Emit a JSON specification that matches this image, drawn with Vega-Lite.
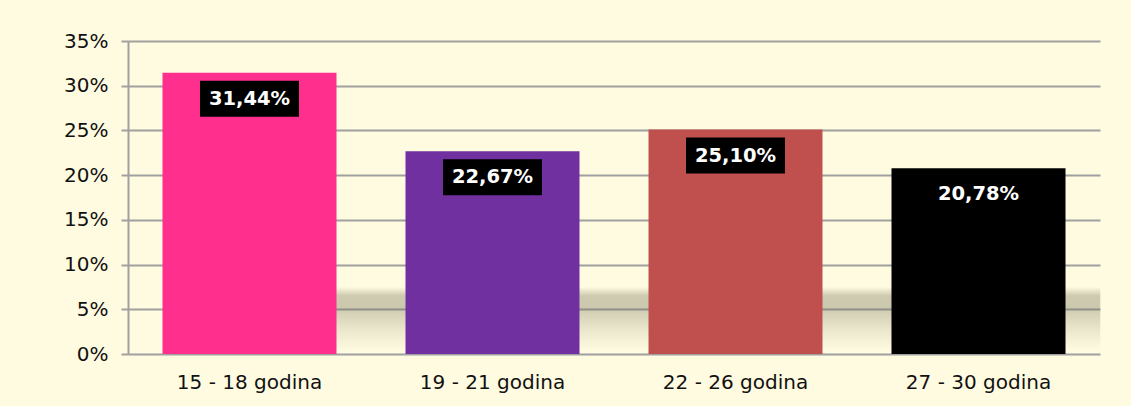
{
  "$schema": "https://vega.github.io/schema/vega-lite/v6.json",
  "width": 972,
  "height": 313,
  "autosize": {"type": "none"},
  "padding": {"left": 128, "top": 41, "right": 31, "bottom": 52},
  "background": "#FFFBE0",
  "config": {
    "locale": {"number": {"decimal": ",", "thousands": ".", "grouping": [3], "currency": ["", " €"], "percent": "%"}},
    "font": "DejaVu Sans",
    "view": {"stroke": null}
  },
  "data": {
    "values": [
      {"group": "15 - 18 godina", "share": 0.3144},
      {"group": "19 - 21 godina", "share": 0.2267},
      {"group": "22 - 26 godina", "share": 0.2510},
      {"group": "27 - 30 godina", "share": 0.2078}
    ]
  },
  "encoding": {
    "x": {
      "field": "group",
      "type": "nominal",
      "sort": null,
      "scale": {
        "domain": ["15 - 18 godina", "19 - 21 godina", "22 - 26 godina", "27 - 30 godina"],
        "paddingInner": 0.284,
        "paddingOuter": 0.142
      },
      "axis": {
        "title": null,
        "domain": false,
        "ticks": false,
        "labelAngle": 0,
        "labelFontSize": 20,
        "labelColor": "#111111",
        "labelPadding": 18,
        "labelBaseline": "top"
      }
    },
    "y": {
      "field": "share",
      "type": "quantitative",
      "scale": {"domain": [0, 0.35], "nice": false},
      "axis": {
        "title": null,
        "format": ".0%",
        "values": [0, 0.05, 0.1, 0.15, 0.2, 0.25, 0.3, 0.35],
        "domain": true,
        "domainColor": "#A0A0A0",
        "domainWidth": 2,
        "ticks": true,
        "tickSize": 7,
        "tickColor": "#A0A0A0",
        "tickWidth": 2,
        "grid": true,
        "gridColor": "#A0A0A0",
        "gridWidth": 2,
        "labelFontSize": 20,
        "labelColor": "#111111",
        "labelPadding": 13
      }
    }
  },
  "layer": [
    {
      "data": {"values": [{"from": "15 - 18 godina", "to": "27 - 30 godina", "top": 0.075, "bottom": 0.05}]},
      "mark": {
        "type": "rect",
        "color": {
          "gradient": "linear", "x1": 0, "y1": 0, "x2": 0, "y2": 1,
          "stops": [
            {"offset": 0, "color": "rgba(110,108,85,0)"},
            {"offset": 0.4, "color": "rgba(110,108,85,0.34)"},
            {"offset": 1, "color": "rgba(110,108,85,0.36)"}
          ]
        }
      },
      "encoding": {
        "x": {"field": "from", "type": "nominal", "bandPosition": 0.5},
        "x2": {"field": "to", "bandPosition": 1.2},
        "y": {"field": "top", "type": "quantitative"},
        "y2": {"field": "bottom"}
      }
    },
    {
      "data": {"values": [{"from": "15 - 18 godina", "to": "27 - 30 godina", "top": 0.05, "bottom": 0.004}]},
      "mark": {
        "type": "rect",
        "color": {
          "gradient": "linear", "x1": 0, "y1": 0, "x2": 0, "y2": 1,
          "stops": [
            {"offset": 0, "color": "rgba(110,108,85,0.32)"},
            {"offset": 0.5, "color": "rgba(110,108,85,0.14)"},
            {"offset": 1, "color": "rgba(110,108,85,0)"}
          ]
        }
      },
      "encoding": {
        "x": {"field": "from", "type": "nominal", "bandPosition": 0.5},
        "x2": {"field": "to", "bandPosition": 1.2},
        "y": {"field": "top", "type": "quantitative"},
        "y2": {"field": "bottom"}
      }
    },
    {
      "mark": {"type": "bar"},
      "encoding": {
        "color": {
          "field": "group",
          "type": "nominal",
          "legend": null,
          "scale": {
            "domain": ["15 - 18 godina", "19 - 21 godina", "22 - 26 godina", "27 - 30 godina"],
            "range": ["#FF2F8E", "#7030A0", "#C0504D", "#000000"]
          }
        }
      }
    },
    {
      "mark": {
        "type": "point",
        "shape": "M-1,-0.3636L1,-0.3636L1,0.3636L-1,0.3636Z",
        "size": 9801,
        "filled": true,
        "fill": "#000000",
        "opacity": 1,
        "strokeWidth": 0,
        "yOffset": 26
      }
    },
    {
      "mark": {
        "type": "text",
        "color": "#FFFFFF",
        "fontWeight": "bold",
        "fontSize": 19.5,
        "baseline": "middle",
        "align": "center",
        "yOffset": 26
      },
      "encoding": {
        "text": {"field": "share", "type": "quantitative", "format": ".2%"}
      }
    }
  ]
}
